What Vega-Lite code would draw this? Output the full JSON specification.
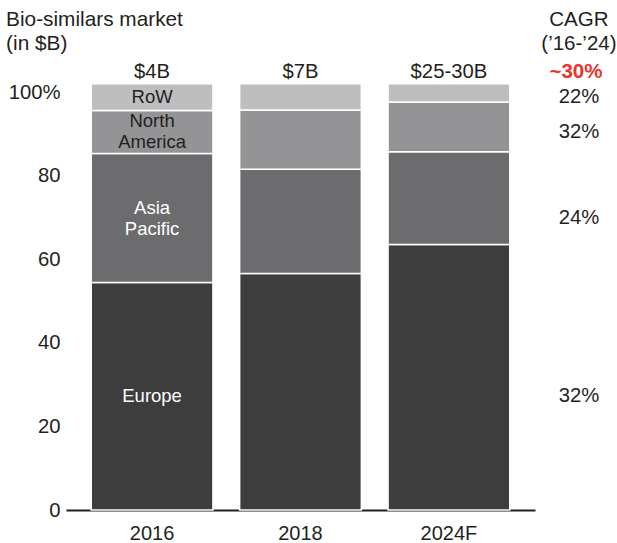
{
  "$schema": "https://vega.github.io/schema/vega-lite/v6.json",
  "width": 469,
  "height": 418,
  "autosize": {"type": "none"},
  "padding": {"left": 66, "top": 92, "right": 82, "bottom": 33},
  "background": "white",
  "config": {"view": {"stroke": null}, "font": "Liberation Sans"},
  "data": {"values": [
    {"year": "2016", "region": "Europe", "rank": 1, "share": 54.4, "label": "Europe", "cagr": "32%", "total": "$4B"},
    {"year": "2016", "region": "Asia Pacific", "rank": 2, "share": 30.9, "label": "Asia\nPacific", "cagr": "24%", "total": "$4B"},
    {"year": "2016", "region": "North America", "rank": 3, "share": 10.3, "label": "North\nAmerica", "cagr": "32%", "total": "$4B"},
    {"year": "2016", "region": "RoW", "rank": 4, "share": 6.4, "label": "RoW", "cagr": "22%", "total": "$4B"},
    {"year": "2018", "region": "Europe", "rank": 1, "share": 56.6, "label": "", "cagr": "32%", "total": "$7B"},
    {"year": "2018", "region": "Asia Pacific", "rank": 2, "share": 24.9, "label": "", "cagr": "24%", "total": "$7B"},
    {"year": "2018", "region": "North America", "rank": 3, "share": 14.2, "label": "", "cagr": "32%", "total": "$7B"},
    {"year": "2018", "region": "RoW", "rank": 4, "share": 6.3, "label": "", "cagr": "22%", "total": "$7B"},
    {"year": "2024F", "region": "Europe", "rank": 1, "share": 63.5, "label": "", "cagr": "32%", "total": "$25-30B"},
    {"year": "2024F", "region": "Asia Pacific", "rank": 2, "share": 22.2, "label": "", "cagr": "24%", "total": "$25-30B"},
    {"year": "2024F", "region": "North America", "rank": 3, "share": 11.9, "label": "", "cagr": "32%", "total": "$25-30B"},
    {"year": "2024F", "region": "RoW", "rank": 4, "share": 4.4, "label": "", "cagr": "22%", "total": "$25-30B"}
  ]},
  "layer": [
    {
      "mark": {"type": "bar", "stroke": "white", "strokeWidth": 1.5},
      "encoding": {
        "x": {"field": "year", "type": "nominal", "sort": ["2016", "2018", "2024F"],
              "scale": {"paddingInner": 0.18, "paddingOuter": 0.17},
              "axis": {"title": null, "ticks": false, "domainColor": "#231f20", "domainWidth": 2.2,
                       "labelFontSize": 20, "labelColor": "#231f20", "labelPadding": 13.5, "labelAngle": 0}},
        "y": {"field": "share", "type": "quantitative", "stack": "zero",
              "scale": {"domain": [0, 100], "nice": false},
              "axis": {"title": null, "domain": false, "ticks": false, "grid": false,
                       "values": [0, 20, 40, 60, 80, 100], "labelFontSize": 20.3, "labelColor": "#231f20",
                       "labelPadding": 6, "labelExpr": "datum.value == 100 ? '100%' : datum.label"}},
        "color": {"field": "region", "type": "nominal",
                  "scale": {"domain": ["Europe", "Asia Pacific", "North America", "RoW"],
                            "range": ["#3d3d3d", "#6c6c6f", "#949497", "#bebec1"]},
                  "legend": null},
        "order": {"field": "rank", "type": "quantitative", "sort": "ascending"}
      }
    },
    {
      "transform": [{"filter": "datum.year == '2016'"}],
      "mark": {"type": "text", "fontSize": 18.5, "baseline": "middle"},
      "encoding": {
        "x": {"field": "year", "type": "nominal", "sort": ["2016", "2018", "2024F"]},
        "y": {"field": "share", "type": "quantitative", "stack": "zero", "bandPosition": 0.5},
        "detail": {"field": "region"},
        "order": {"field": "rank", "type": "quantitative", "sort": "ascending"},
        "text": {"condition": {"test": "indexof(datum.label, '\\n') < 0", "field": "label"}, "value": ""},
        "color": {"condition": {"test": "datum.region == 'Europe' || datum.region == 'Asia Pacific'", "value": "white"}, "value": "#231f20"}
      }
    },
    {
      "transform": [{"filter": "datum.year == '2016'"}],
      "mark": {"type": "text", "fontSize": 18.5, "lineBreak": "\n", "lineHeight": 21, "baseline": "middle", "dy": -10.5},
      "encoding": {
        "x": {"field": "year", "type": "nominal", "sort": ["2016", "2018", "2024F"]},
        "y": {"field": "share", "type": "quantitative", "stack": "zero", "bandPosition": 0.5},
        "detail": {"field": "region"},
        "order": {"field": "rank", "type": "quantitative", "sort": "ascending"},
        "text": {"condition": {"test": "indexof(datum.label, '\\n') >= 0", "field": "label"}, "value": ""},
        "color": {"condition": {"test": "datum.region == 'Europe' || datum.region == 'Asia Pacific'", "value": "white"}, "value": "#231f20"}
      }
    },
    {
      "transform": [{"filter": "datum.year == '2016'"}],
      "mark": {"type": "text", "fontSize": 20.3, "baseline": "middle", "dx": 427, "color": "#231f20"},
      "encoding": {
        "x": {"field": "year", "type": "nominal", "sort": ["2016", "2018", "2024F"]},
        "y": {"field": "share", "type": "quantitative", "stack": "zero", "bandPosition": 0.5},
        "detail": {"field": "region"},
        "order": {"field": "rank", "type": "quantitative", "sort": "ascending"},
        "text": {"field": "cagr"}
      }
    },
    {
      "mark": {"type": "text", "fontSize": 20.3, "baseline": "middle", "dy": -12, "color": "#231f20"},
      "encoding": {
        "x": {"field": "year", "type": "nominal", "sort": ["2016", "2018", "2024F"]},
        "y": {"aggregate": "sum", "field": "share", "type": "quantitative"},
        "text": {"field": "total"}
      }
    },
    {
      "data": {"values": [{"head": "CAGR"}]},
      "mark": {"type": "text", "fontSize": 20.5, "baseline": "middle", "dx": 130, "dy": -72, "lineHeight": 23.5, "color": "#231f20"},
      "encoding": {
        "x": {"datum": "2024F"},
        "y": {"datum": 100},
        "text": {"value": ["CAGR", "(’16-’24)"]}
      }
    },
    {
      "data": {"values": [{"head": "total"}]},
      "mark": {"type": "text", "fontSize": 20.5, "fontWeight": "bold", "baseline": "middle", "dx": 127, "dy": -20.5, "color": "#e8352b"},
      "encoding": {
        "x": {"datum": "2024F"},
        "y": {"datum": 100},
        "text": {"value": "~30%"}
      }
    },
    {
      "data": {"values": [{"head": "title"}]},
      "mark": {"type": "text", "fontSize": 20.8, "baseline": "middle", "align": "left", "dx": -146, "dy": -72, "lineHeight": 24, "color": "#231f20"},
      "encoding": {
        "x": {"datum": "2016"},
        "y": {"datum": 100},
        "text": {"value": ["Bio-similars market", "(in $B)"]}
      }
    }
  ]
}
